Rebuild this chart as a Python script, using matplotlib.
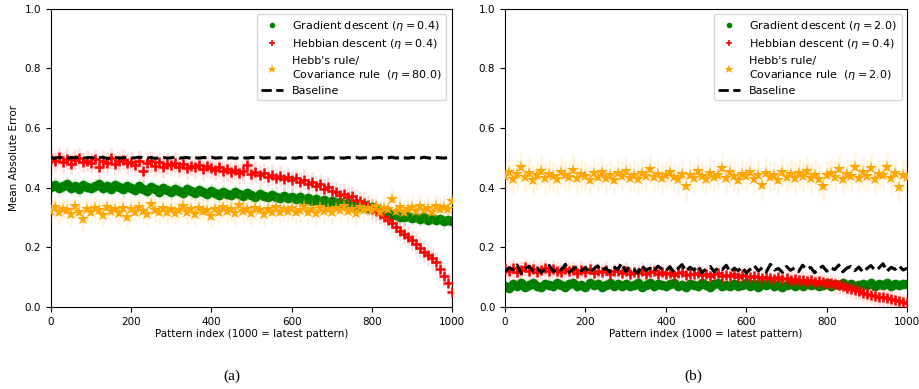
import numpy as np
import matplotlib
matplotlib.use("Agg")
import matplotlib.pyplot as plt
from matplotlib.lines import Line2D

pattern_index = np.arange(0, 1001, 10)

# ---- panel (a) ----
gd_a = [0.402,0.410,0.398,0.405,0.412,0.400,0.407,0.395,0.409,0.403,
        0.398,0.406,0.411,0.399,0.404,0.396,0.408,0.401,0.394,0.405,
        0.400,0.392,0.404,0.397,0.389,0.401,0.395,0.387,0.398,0.392,
        0.386,0.396,0.390,0.383,0.394,0.388,0.381,0.392,0.385,0.379,
        0.389,0.383,0.377,0.386,0.380,0.374,0.384,0.378,0.372,0.381,
        0.375,0.370,0.379,0.372,0.367,0.376,0.369,0.364,0.373,0.366,
        0.370,0.362,0.367,0.359,0.364,0.356,0.361,0.353,0.358,0.350,
        0.354,0.347,0.351,0.343,0.348,0.340,0.344,0.337,0.341,0.333,
        0.336,0.329,0.326,0.320,0.315,0.310,0.307,0.303,0.300,0.305,
        0.299,0.302,0.296,0.300,0.293,0.297,0.290,0.295,0.288,0.292,
        0.288]
hd_a = [0.495,0.488,0.502,0.485,0.497,0.480,0.493,0.499,0.486,0.491,
        0.483,0.496,0.470,0.490,0.484,0.498,0.478,0.489,0.493,0.481,
        0.487,0.476,0.491,0.455,0.482,0.488,0.474,0.485,0.469,0.480,
        0.476,0.483,0.470,0.479,0.465,0.474,0.468,0.477,0.462,0.471,
        0.466,0.459,0.470,0.455,0.462,0.452,0.460,0.448,0.456,0.475,
        0.447,0.453,0.441,0.449,0.436,0.444,0.432,0.440,0.428,0.435,
        0.425,0.431,0.418,0.426,0.412,0.419,0.404,0.411,0.397,0.401,
        0.388,0.384,0.376,0.379,0.368,0.371,0.360,0.355,0.350,0.342,
        0.330,0.322,0.312,0.302,0.292,0.280,0.268,0.256,0.246,0.236,
        0.224,0.212,0.198,0.186,0.174,0.163,0.150,0.128,0.105,0.080,
        0.050]
hr_a = [0.322,0.335,0.318,0.330,0.326,0.312,0.338,0.320,0.295,0.328,
        0.317,0.332,0.325,0.309,0.336,0.321,0.328,0.314,0.331,0.300,
        0.327,0.319,0.334,0.323,0.311,0.345,0.326,0.318,0.333,0.320,
        0.329,0.315,0.324,0.337,0.319,0.328,0.312,0.331,0.322,0.326,
        0.305,0.330,0.318,0.335,0.323,0.327,0.314,0.342,0.321,0.329,
        0.316,0.333,0.324,0.311,0.330,0.320,0.336,0.318,0.327,0.322,
        0.331,0.317,0.326,0.339,0.320,0.328,0.315,0.334,0.323,0.329,
        0.318,0.332,0.325,0.340,0.321,0.330,0.316,0.335,0.326,0.331,
        0.324,0.337,0.320,0.333,0.328,0.362,0.322,0.336,0.319,0.330,
        0.334,0.321,0.338,0.326,0.332,0.318,0.340,0.327,0.335,0.329,
        0.355]
bl_a = [0.500,0.499,0.501,0.500,0.498,0.501,0.500,0.502,0.499,0.500,
        0.501,0.499,0.500,0.502,0.498,0.500,0.501,0.499,0.500,0.501,
        0.499,0.500,0.502,0.500,0.499,0.501,0.498,0.500,0.501,0.499,
        0.500,0.502,0.499,0.500,0.501,0.498,0.500,0.499,0.501,0.500,
        0.502,0.499,0.500,0.501,0.499,0.500,0.498,0.501,0.500,0.499,
        0.501,0.500,0.502,0.499,0.500,0.501,0.499,0.500,0.498,0.501,
        0.500,0.499,0.501,0.500,0.502,0.499,0.500,0.501,0.499,0.500,
        0.501,0.498,0.500,0.499,0.501,0.500,0.502,0.499,0.500,0.501,
        0.499,0.500,0.501,0.498,0.500,0.502,0.499,0.501,0.500,0.499,
        0.501,0.500,0.499,0.502,0.500,0.498,0.501,0.500,0.499,0.501,
        0.500]

# ---- panel (b) ----
gd_b = [0.072,0.065,0.078,0.070,0.081,0.068,0.075,0.079,0.071,0.066,
        0.077,0.073,0.069,0.080,0.074,0.067,0.076,0.082,0.070,0.075,
        0.068,0.079,0.073,0.077,0.066,0.074,0.080,0.071,0.076,0.069,
        0.078,0.072,0.075,0.081,0.067,0.074,0.079,0.070,0.077,0.073,
        0.069,0.076,0.080,0.072,0.075,0.068,0.078,0.074,0.071,0.079,
        0.073,0.067,0.076,0.081,0.070,0.075,0.072,0.078,0.069,0.074,
        0.080,0.071,0.076,0.068,0.077,0.073,0.079,0.070,0.075,0.066,
        0.074,0.078,0.071,0.076,0.069,0.080,0.073,0.077,0.072,0.075,
        0.079,0.070,0.076,0.074,0.081,0.072,0.077,0.069,0.075,0.078,
        0.073,0.080,0.071,0.076,0.074,0.079,0.072,0.077,0.075,0.078,
        0.076]
hd_b = [0.128,0.120,0.131,0.118,0.125,0.133,0.121,0.127,0.116,0.124,
        0.130,0.119,0.126,0.122,0.117,0.128,0.120,0.125,0.114,0.123,
        0.118,0.126,0.113,0.121,0.117,0.124,0.112,0.119,0.122,0.115,
        0.120,0.111,0.118,0.114,0.121,0.109,0.116,0.119,0.112,0.117,
        0.110,0.115,0.108,0.113,0.118,0.107,0.112,0.109,0.114,0.106,
        0.111,0.104,0.109,0.113,0.103,0.108,0.105,0.110,0.101,0.107,
        0.103,0.099,0.105,0.100,0.097,0.102,0.098,0.094,0.100,0.095,
        0.096,0.091,0.094,0.089,0.092,0.088,0.090,0.085,0.087,0.083,
        0.082,0.079,0.076,0.073,0.070,0.064,0.060,0.056,0.052,0.048,
        0.044,0.041,0.038,0.035,0.032,0.029,0.026,0.022,0.019,0.016,
        0.012]
hr_b = [0.438,0.452,0.430,0.445,0.468,0.436,0.449,0.425,0.441,0.455,
        0.433,0.447,0.439,0.428,0.451,0.442,0.435,0.458,0.431,0.446,
        0.440,0.427,0.449,0.437,0.453,0.432,0.444,0.426,0.448,0.439,
        0.456,0.434,0.443,0.429,0.450,0.438,0.461,0.435,0.446,0.431,
        0.444,0.452,0.437,0.428,0.447,0.404,0.441,0.433,0.455,0.439,
        0.430,0.448,0.436,0.444,0.465,0.432,0.451,0.440,0.427,0.446,
        0.438,0.454,0.429,0.443,0.409,0.449,0.435,0.441,0.426,0.452,
        0.437,0.445,0.431,0.448,0.439,0.456,0.433,0.444,0.428,0.405,
        0.442,0.450,0.436,0.463,0.430,0.447,0.440,0.468,0.434,0.453,
        0.438,0.466,0.429,0.445,0.441,0.470,0.432,0.449,0.402,0.443,
        0.437]
bl_b = [0.118,0.132,0.125,0.141,0.112,0.128,0.137,0.120,0.131,0.115,
        0.127,0.139,0.118,0.130,0.124,0.143,0.116,0.129,0.135,0.121,
        0.133,0.114,0.127,0.138,0.122,0.131,0.117,0.136,0.125,0.147,
        0.119,0.134,0.126,0.113,0.140,0.123,0.130,0.118,0.137,0.127,
        0.121,0.135,0.116,0.129,0.142,0.120,0.133,0.124,0.138,0.115,
        0.128,0.136,0.119,0.131,0.125,0.140,0.117,0.130,0.122,0.134,
        0.114,0.127,0.139,0.121,0.132,0.118,0.143,0.124,0.129,0.116,
        0.136,0.123,0.131,0.119,0.140,0.126,0.133,0.115,0.128,0.137,
        0.120,0.132,0.125,0.141,0.118,0.130,0.136,0.122,0.134,0.117,
        0.129,0.139,0.123,0.131,0.145,0.120,0.133,0.126,0.138,0.124,
        0.130]

# error bar half-widths (std)
err_a = {"gd": 0.025, "hd": 0.035, "hr": 0.04}
err_b = {"gd": 0.015, "hd": 0.03, "hr": 0.05}

labels_a = [r"Gradient descent ($\eta = 0.4$)", r"Hebbian descent ($\eta = 0.4$)",
            "Hebb's rule/\nCovariance rule  ($\\eta = 80.0$)", "Baseline"]
labels_b = [r"Gradient descent ($\eta = 2.0$)", r"Hebbian descent ($\eta = 0.4$)",
            "Hebb's rule/\nCovariance rule  ($\\eta = 2.0$)", "Baseline"]
captions = ["(a)", "(b)"]

plt.rcParams["font.family"] = ["DejaVu Sans"]
plt.rcParams["mathtext.fontset"] = "dejavusans"

fig = plt.figure(figsize=(9.2, 3.89), dpi=100)
ax_a = fig.add_axes([0.0554, 0.2108, 0.4359, 0.767])
ax_b = fig.add_axes([0.549, 0.2108, 0.437, 0.767])

def draw(ax, gd, hd, hr, bl, err, labels):
    x = pattern_index
    ax.errorbar(x, gd, yerr=err["gd"], fmt="o", color="green", ms=7, mew=0,
                ecolor=(0.0, 0.5, 0.0, 0.12), elinewidth=2, zorder=2)
    ax.errorbar(x, hd, yerr=err["hd"], fmt="+", color="red", ms=7.5, mew=1.8,
                ecolor=(1.0, 0.0, 0.0, 0.12), elinewidth=2, zorder=3)
    ax.errorbar(x, hr, yerr=err["hr"], fmt="*", color="orange", ms=9.5, mew=0,
                ecolor=(1.0, 0.65, 0.0, 0.12), elinewidth=2, zorder=4)
    ax.plot(x, bl, "--", color="black", lw=2.2, zorder=5)
    ax.set_xlim(0, 1000)
    ax.set_ylim(0, 1.0)
    ax.set_xticks([0, 200, 400, 600, 800, 1000])
    ax.set_yticks([0.0, 0.2, 0.4, 0.6, 0.8, 1.0])
    ax.tick_params(labelsize=7.5, length=3.5)
    ax.set_xlabel("Pattern index (1000 = latest pattern)", fontsize=7.5, labelpad=2)
    proxies = [
        Line2D([], [], ls="none", marker="o", color="green", ms=4, mew=0),
        Line2D([], [], ls="none", marker="+", color="red", ms=5, mew=1.2),
        Line2D([], [], ls="none", marker="*", color="orange", ms=6.5, mew=0),
        Line2D([], [], ls="--", color="black", lw=2),
    ]
    ax.legend(proxies, labels, loc="upper right", fontsize=8,
              handlelength=2.0, borderaxespad=0.5, labelspacing=0.4)

draw(ax_a, gd_a, hd_a, hr_a, bl_a, err_a, labels_a)
draw(ax_b, gd_b, hd_b, hr_b, bl_b, err_b, labels_b)
ax_a.set_ylabel("Mean Absolute Error", fontsize=7.5)

fig.text(0.252, 0.033, captions[0], ha="center", va="center", fontsize=11,
         family="Liberation Serif")
fig.text(0.754, 0.033, captions[1], ha="center", va="center", fontsize=11,
         family="Liberation Serif")

fig.savefig("out.png", dpi=100)
